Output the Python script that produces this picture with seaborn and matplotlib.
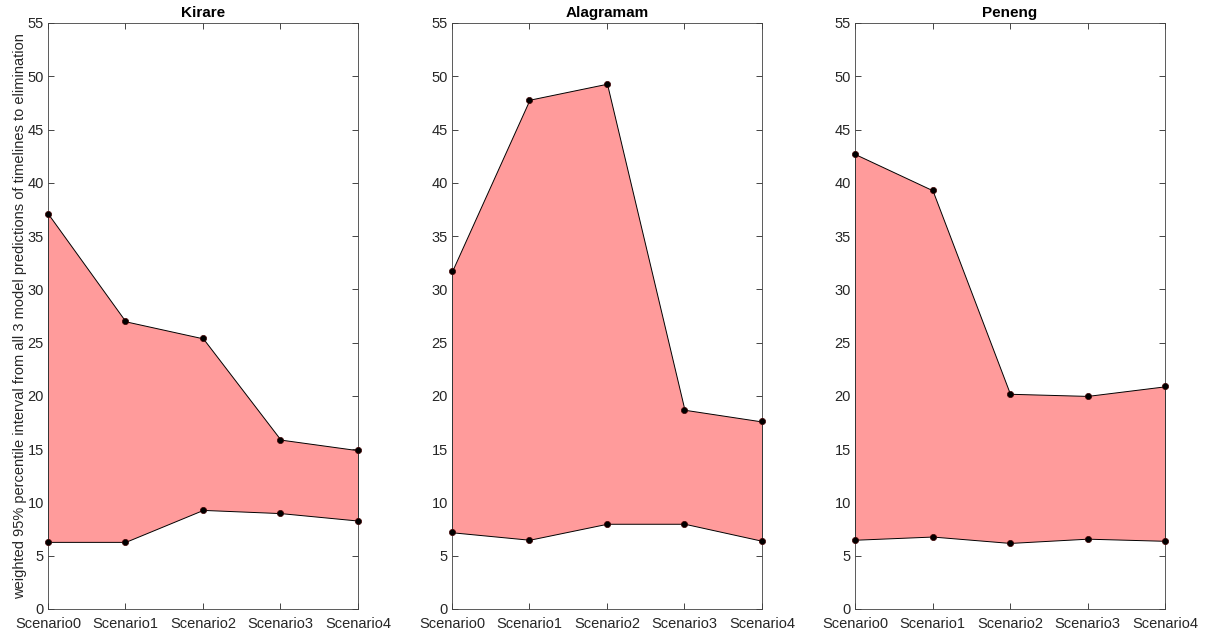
import numpy as np
import pandas as pd
import matplotlib
matplotlib.use('Agg')
import matplotlib.pyplot as plt
import seaborn as sns

# chart values
scenarios = ['Scenario0', 'Scenario1', 'Scenario2', 'Scenario3', 'Scenario4']
sites = ['Kirare', 'Alagramam', 'Peneng']
upper = {
    'Kirare': [37.1, 27.0, 25.4, 15.9, 14.9],
    'Alagramam': [31.7, 47.8, 49.3, 18.7, 17.6],
    'Peneng': [42.7, 39.3, 20.2, 20.0, 20.9],
}
lower = {
    'Kirare': [6.3, 6.3, 9.3, 9.0, 8.3],
    'Alagramam': [7.2, 6.5, 8.0, 8.0, 6.4],
    'Peneng': [6.5, 6.8, 6.2, 6.6, 6.4],
}
yticks = list(range(0, 56, 5))

sns.set_style('white')
plt.rcParams['font.family'] = ['Liberation Sans', 'DejaVu Sans']

fig = plt.figure(figsize=(12.09, 6.3), dpi=100)
lefts = [48 / 1209, 452 / 1209, 855 / 1209]
w = 310 / 1209
bottom = 21 / 630
h = 586 / 630

x = np.arange(len(scenarios))
for site, l in zip(sites, lefts):
    ax = fig.add_axes([l, bottom, w, h])
    up = np.array(upper[site])
    lo = np.array(lower[site])
    ax.fill_between(x, lo, up, facecolor='#ff9b9b', edgecolor='black', linewidth=0.7, zorder=2)
    ax.plot([x[0], x[0]], [lo[0], up[0]], color='black', lw=0.7, zorder=2)
    ax.plot([x[-1], x[-1]], [lo[-1], up[-1]], color='black', lw=0.7, zorder=2)
    df = pd.DataFrame({'x': np.concatenate([x, x]), 'y': np.concatenate([up, lo])})
    sns.scatterplot(data=df, x='x', y='y', color='black', s=20, edgecolor='#400000',
                    linewidth=0.5, ax=ax, zorder=3, clip_on=False)
    ax.set_xlim(0, 4)
    ax.set_ylim(0, 55)
    ax.set_xticks(x)
    ax.set_xticklabels(scenarios)
    ax.set_yticks(yticks)
    ax.set_xlabel('')
    ax.set_ylabel('')
    ax.set_title(site, fontsize=11, fontweight='bold', pad=4, color='black')
    ax.tick_params(axis='both', direction='in', length=4, labelsize=10.5,
                   colors='#262626', width=0.6, pad=3)
    ax.tick_params(axis='x', pad=6)
    ax.tick_params(axis='y', right=True, left=True)
    ax.tick_params(axis='x', top=True, bottom=True)
    for sp in ax.spines.values():
        sp.set_color('#404040')
        sp.set_linewidth(0.6)
    if site == 'Kirare':
        ax.set_ylabel('weighted 95% percentile interval from all 3 model predictions of timelines to elimination',
                      fontsize=10.5, color='#262626', labelpad=0)

fig.savefig('out.png', dpi=100)
